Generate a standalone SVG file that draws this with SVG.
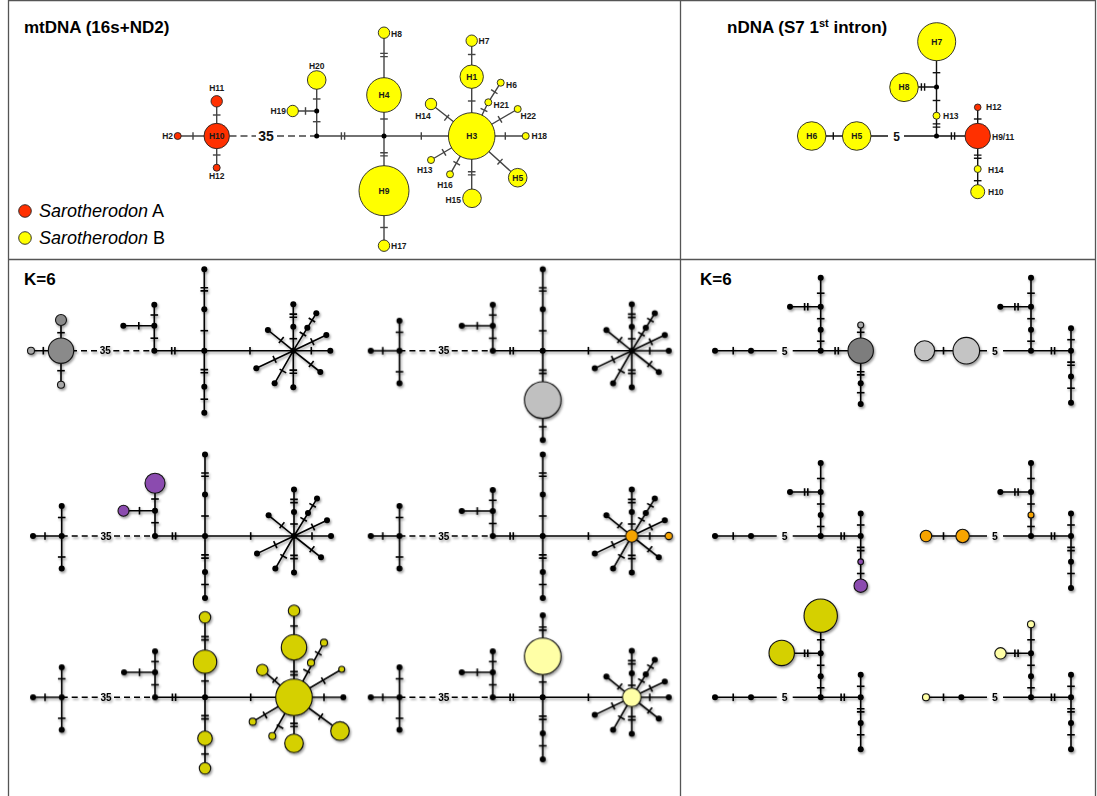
<svg xmlns="http://www.w3.org/2000/svg" width="1097" height="796" viewBox="0 0 1097 796">
<defs>
<style>
.frame{stroke:#555;stroke-width:1.3;fill:none}
.title{font-family:"Liberation Sans",Arial,sans-serif;font-weight:bold;font-size:17px;fill:#000}
.leg{font-family:"Liberation Sans",Arial,sans-serif;font-size:18px;fill:#000}
.hl,.hs,.he{font-family:"Liberation Sans",Arial,sans-serif;font-weight:bold;font-size:8.5px;fill:#1a1a1a;stroke:none}
.hl{text-anchor:middle}.hs{text-anchor:start}.he{text-anchor:end}
.big{font-family:"Liberation Sans",Arial,sans-serif;font-weight:bold;fill:#111;stroke:none;text-anchor:middle}
.mtl{stroke:#444;stroke-width:1.4;fill:none}
.ndl{stroke:#111;stroke-width:1.4;fill:none}
.k{stroke:#000;stroke-width:1.6;fill:none}
.cr{fill:#ff3000;stroke:#222;stroke-width:0.9}
.cy{fill:#ffff00;stroke:#222;stroke-width:0.9}
.c{stroke:#111;stroke-width:1.1}
.t35{font-family:"Liberation Sans",Arial,sans-serif;font-weight:bold;font-size:10px;fill:#000;stroke:none;text-anchor:middle}
</style>
<filter id="sh" x="-10%" y="-10%" width="125%" height="125%">
<feDropShadow dx="1.2" dy="1.8" stdDeviation="1.2" flood-color="#000" flood-opacity="0.4"/>
</filter>
<path id="tv" d="M0,-3.8V3.8"/>
<path id="tv2" d="M-1.6,-3.8V3.8M1.6,-3.8V3.8"/>
<path id="th" d="M-3.8,0H3.8"/>
<path id="th2" d="M-3.8,-1.6H3.8M-3.8,1.6H3.8"/>
<circle id="d" r="3" fill="#000" stroke="none"/>
<circle id="dm" r="2.5" fill="#000" stroke="none"/>
<g id="mtStar">
 <path d="M0,-46.4V36.6 M0,0H37 M0,0L23,-37.4 M0,0L33,-15.7 M0,0L27,21.3 M0,0L-37,17.6 M0,0L-18.7,32.6 M0,0L-25.4,-20.7"/>
 <use href="#th" y="-12"/><use href="#th2" y="-35"/><use href="#th2" y="21"/><use href="#tv" x="18"/>
 <use href="#tv" transform="translate(9.6,-16.7) rotate(-58.4)"/>
 <use href="#tv" transform="translate(18.6,-30.7) rotate(-58.4)"/>
 <use href="#tv" transform="translate(19,-9) rotate(-25.4)"/>
 <use href="#tv" transform="translate(18,13.3) rotate(38.3)"/>
 <use href="#tv" transform="translate(-18.7,8.6) rotate(154.6)"/>
 <use href="#tv" transform="translate(-10.4,20.3) rotate(119.8)"/>
 <use href="#tv" transform="translate(-12,-10.7) rotate(-140.8)"/>
 <use href="#d"/><use href="#d" y="-24"/><use href="#d" y="-46.4"/><use href="#d" y="36.6"/><use href="#d" x="37"/>
 <use href="#d" x="14" y="-23"/><use href="#d" x="23" y="-37.4"/><use href="#d" x="33" y="-15.7"/><use href="#d" x="27" y="21.3"/>
 <use href="#d" x="-37" y="17.6"/><use href="#d" x="-18.7" y="32.6"/><use href="#d" x="-25.4" y="-20.7"/>
</g>
<g id="mtLeft">
 <path d="M-28.7,0H0 M0,-30V32.6"/>
 <use href="#tv" x="-16.7"/><use href="#th" y="-18.5"/><use href="#th" y="21"/>
 <use href="#d" x="-28.7"/><use href="#d"/><use href="#d" y="-30"/><use href="#d" y="32.6"/>
</g>
<g id="mtA">
 <path d="M0,0V-46 M-31,-25H0"/>
 <use href="#th" y="-12.5"/><use href="#th" y="-35.7"/><use href="#tv" x="-15.5" y="-25"/>
 <use href="#d"/><use href="#d" y="-25"/><use href="#d" y="-46"/><use href="#d" x="-31" y="-25"/>
</g>
<g id="mtSpine">
 <path stroke-dasharray="6 4" d="M-143.3,0H-107 M-91,0H-50"/>
 <text x="-99" y="3.6" class="t35">35</text>
 <path d="M-50,0H89"/>
 <use href="#tv2" x="-31"/><use href="#tv" x="45.7"/>
 <use href="#d"/>
</g>
<g id="mtUp"><path d="M0,0V-81.4"/><use href="#th" y="-20"/><use href="#th2" y="-61.4"/><use href="#d" y="-41.4"/><use href="#d" y="-81.4"/></g>
<g id="mtDown"><path d="M0,0V62"/><use href="#th2" y="20.5"/><use href="#th" y="48.5"/><use href="#d" y="36"/><use href="#d" y="62"/></g>
<g id="ndBase">
 <path d="M-105.7,0H-44 M-28,0H40 M0,0V-73 M-30.7,-44H0"/>
 <text x="-36" y="3.8" class="t35" style="font-size:10.5px">5</text>
 <use href="#tv" x="-87.5"/>
 <use href="#th" y="-9.5"/><use href="#th" y="-32"/><use href="#th" y="-57.5"/>
 <use href="#tv2" x="-14.5" y="-44"/>
 <use href="#d" x="-105.7"/><use href="#d" x="-69.7"/><use href="#d"/><use href="#d" y="-21"/><use href="#d" y="-44"/><use href="#d" y="-73"/><use href="#d" x="-30.7" y="-44"/>
</g>
<g id="ndRight">
 <path d="M0,-22.5V52"/>
 <use href="#tv2" x="-18"/>
 <use href="#th" y="-11"/><use href="#th2" y="13"/><use href="#th" y="37.5"/>
 <use href="#d"/><use href="#d" y="-22.5"/><use href="#d" y="25.7"/><use href="#d" y="52"/>
</g>
</defs>

<rect width="1097" height="796" fill="#fff"/>
<g id="frame" class="frame">
 <path d="M8.5,0.7H1095.5 M8.5,0V796 M1095.5,0V796 M8.5,259.5H1095.5 M680.5,0V796"/>
</g>

<text class="title" x="24" y="33">mtDNA (16s+ND2)</text>
<text class="title" x="727" y="33">nDNA (S7 1<tspan font-size="11" dy="-6">st</tspan><tspan dy="6"> intron)</tspan></text>
<text class="title" x="24" y="285">K=6</text>
<text class="title" x="700" y="285">K=6</text>

<g id="legend">
 <circle class="cr" cx="25" cy="211" r="6.3"/>
 <text class="leg" x="39" y="217"><tspan font-style="italic">Sarotherodon</tspan> A</text>
 <circle class="cy" cx="25" cy="238" r="6.3"/>
 <text class="leg" x="39" y="244"><tspan font-style="italic">Sarotherodon</tspan> B</text>
</g>

<!-- main mtDNA network -->
<g id="mt-connectors" class="mtl">
 <path d="M177.7,136H216.7 M216.7,101.3V167.7"/>
 <path stroke-dasharray="7 4" d="M229.5,136H256 M277,136H316.7"/>
 <path d="M316.7,136V80 M292.7,111H316.7 M316.7,136H471.7 M384,32.7V245.7 M471.7,40.7V198.3 M471.7,136H525.7 M471.7,136L431,104 M471.7,136L488.3,102.3L500.7,82.7 M471.7,136L517.7,109 M471.7,136L517.7,177.7 M471.7,136L450,174.3 M471.7,136L431,160"/>
 <use href="#tv" x="193" y="136"/>
 <use href="#th" x="216.7" y="115"/><use href="#th" x="216.7" y="155"/>
 <use href="#th" x="316.7" y="121.7"/><use href="#th" x="316.7" y="99"/>
 <use href="#tv" x="305.5" y="111"/>
 <use href="#tv2" x="343" y="136"/>
 <use href="#th" x="384" y="119"/><use href="#th2" x="384" y="55"/><use href="#th2" x="384" y="154.3"/><use href="#th" x="384" y="227.5"/>
 <use href="#tv" x="421.3" y="136"/>
 <use href="#th" x="471.7" y="101"/><use href="#th" x="471.7" y="54.5"/>
 <use href="#tv" transform="translate(446.7,117.7) rotate(-141.8)"/>
 <use href="#tv" transform="translate(484,110) rotate(-63.8)"/>
 <use href="#tv" transform="translate(494.3,91.7) rotate(-57.7)"/>
 <use href="#tv" transform="translate(500,119.3) rotate(-30.4)"/>
 <use href="#tv" x="505.3" y="136"/>
 <use href="#tv" transform="translate(500,161.7) rotate(42.2)"/>
 <use href="#th2" x="471.7" y="173.3"/>
 <use href="#tv" transform="translate(456.7,163.3) rotate(119.5)"/>
 <use href="#tv" transform="translate(444,152.3) rotate(149.5)"/>
 <text class="big" x="266" y="141" style="font-size:14px">35</text>
</g>
<g id="mt-mv1"><use href="#dm" x="316.7" y="136"/></g>
<g id="mt-mv2"><use href="#dm" x="316.7" y="111"/></g>
<g id="mt-mv3"><use href="#dm" x="384" y="136"/></g>
<g id="mt-H10"><circle class="cr" cx="216.7" cy="136" r="12.7"/><text class="hl" x="216.7" y="139">H10</text></g>
<g id="mt-H11"><circle class="cr" cx="216.7" cy="101.3" r="5.7"/><text class="hl" x="216.7" y="91">H11</text></g>
<g id="mt-H12"><circle class="cr" cx="216.7" cy="167.7" r="3.5"/><text class="hl" x="216.7" y="179">H12</text></g>
<g id="mt-H2"><circle class="cr" cx="177.7" cy="136" r="3.5"/><text class="he" x="173" y="139">H2</text></g>
<g id="mt-H20"><circle class="cy" cx="316.7" cy="80" r="9.3"/><text class="hl" x="316.7" y="69">H20</text></g>
<g id="mt-H19"><circle class="cy" cx="292.7" cy="111" r="5.7"/><text class="he" x="286" y="114">H19</text></g>
<g id="mt-H4"><circle class="cy" cx="384" cy="95" r="17.3"/><text class="hl" x="384" y="98">H4</text></g>
<g id="mt-H8"><circle class="cy" cx="384" cy="32.7" r="5.7"/><text class="hs" x="391" y="37">H8</text></g>
<g id="mt-H9"><circle class="cy" cx="384" cy="190.7" r="25"/><text class="hl" x="384" y="194">H9</text></g>
<g id="mt-H17"><circle class="cy" cx="384" cy="245.7" r="5.7"/><text class="hs" x="391" y="249">H17</text></g>
<g id="mt-H3"><circle class="cy" cx="471.7" cy="136" r="23.3"/><text class="hl" x="471.7" y="139">H3</text></g>
<g id="mt-H1"><circle class="cy" cx="471.7" cy="76.7" r="11.7"/><text class="hl" x="471.7" y="80">H1</text></g>
<g id="mt-H7"><circle class="cy" cx="471.7" cy="40.7" r="5.7"/><text class="hs" x="478.5" y="44">H7</text></g>
<g id="mt-H14"><circle class="cy" cx="431" cy="104" r="5.7"/><text class="hl" x="423" y="119">H14</text></g>
<g id="mt-H21"><circle class="cy" cx="488.3" cy="102.3" r="3.5"/><text class="hs" x="493.5" y="108">H21</text></g>
<g id="mt-H6"><circle class="cy" cx="500.7" cy="82.7" r="3.5"/><text class="hs" x="506" y="88">H6</text></g>
<g id="mt-H22"><circle class="cy" cx="517.7" cy="109" r="3.5"/><text class="hs" x="520.5" y="119">H22</text></g>
<g id="mt-H18"><circle class="cy" cx="525.7" cy="136" r="3.5"/><text class="hs" x="531.5" y="139">H18</text></g>
<g id="mt-H5"><circle class="cy" cx="517.7" cy="177.7" r="9.3"/><text class="hl" x="517.7" y="181">H5</text></g>
<g id="mt-H15"><circle class="cy" cx="472" cy="198.3" r="9.3"/><text class="he" x="461" y="203">H15</text></g>
<g id="mt-H16"><circle class="cy" cx="450" cy="174.3" r="3.5"/><text class="hl" x="445" y="188">H16</text></g>
<g id="mt-H13"><circle class="cy" cx="431" cy="160" r="3.5"/><text class="hl" x="424.7" y="173">H13</text></g>

<!-- main nDNA network -->
<g id="nd-connectors" class="ndl">
 <path d="M811.7,136H888 M904,136H977.7 M936.5,136V41.7 M904,87H936.5 M977.7,107.3V191.7"/>
 <use href="#tv" x="833.3" y="136"/>
 <use href="#tv2" x="953" y="136"/>
 <use href="#th" x="977.7" y="119"/><use href="#th2" x="977.7" y="156.7"/><use href="#th" x="977.7" y="180.7"/>
 <use href="#th2" x="936.5" y="125.5"/><use href="#th" x="936.5" y="100.5"/><use href="#th" x="936.5" y="72.7"/>
 <use href="#tv2" x="923" y="87"/>
 <text class="big" x="896.5" y="140.5" style="font-size:12px">5</text>
</g>
<g id="nd-mv1"><use href="#dm" x="936.5" y="136"/></g>
<g id="nd-mv2"><use href="#dm" x="936.5" y="87"/></g>
<g id="nd-H7"><circle class="cy" cx="936.7" cy="41.7" r="19"/><text class="hl" x="936.7" y="44.7">H7</text></g>
<g id="nd-H8"><circle class="cy" cx="904" cy="87.3" r="14.3"/><text class="hl" x="904" y="90.3">H8</text></g>
<g id="nd-H13"><circle class="cy" cx="936.5" cy="115.7" r="3.5"/><text class="hs" x="943" y="119">H13</text></g>
<g id="nd-H6"><circle class="cy" cx="811.7" cy="136" r="14.3"/><text class="hl" x="811.7" y="139">H6</text></g>
<g id="nd-H5"><circle class="cy" cx="856.7" cy="136" r="14.3"/><text class="hl" x="856.7" y="139">H5</text></g>
<g id="nd-H9-11"><circle class="cr" cx="977.7" cy="136" r="12.7"/><text class="hs" x="992" y="140">H9/11</text></g>
<g id="nd-H12"><circle class="cr" cx="977.7" cy="107.3" r="3.3"/><text class="hs" x="986" y="110">H12</text></g>
<g id="nd-H14"><circle class="cy" cx="977.7" cy="169" r="3.5"/><text class="hs" x="988" y="173">H14</text></g>
<g id="nd-H10"><circle class="cy" cx="977.7" cy="191.7" r="7"/><text class="hs" x="988" y="195">H10</text></g>

<!-- K=6 mtDNA panels -->
<g id="k6-mt-1" class="k" filter="url(#sh)" transform="translate(204.3,350.7)">
 <use href="#mtSpine"/>
 <path d="M-173.3,0H-143.3 M-143.3,-30.7V34"/>
 <use href="#tv" x="-161"/><use href="#th" x="-143.3" y="-18"/><use href="#th" x="-143.3" y="20"/>
 <circle class="c" cx="-143.3" cy="0" r="12.7" fill="#8a8a8a"/>
 <circle class="c" cx="-143.3" cy="-30.7" r="5.5" fill="#8a8a8a"/>
 <circle class="c" cx="-143.3" cy="34" r="3.5" fill="#a8a8a8"/>
 <circle class="c" cx="-173.3" cy="0" r="3.5" fill="#a8a8a8"/>
 <use href="#mtA" x="-50"/>
 <use href="#mtUp"/><use href="#mtDown"/><use href="#mtStar" x="89"/>
</g>
<g id="k6-mt-2" class="k" filter="url(#sh)" transform="translate(542.7,350.7)">
 <use href="#mtSpine"/><use href="#mtLeft" x="-143.3"/><use href="#mtA" x="-50"/><use href="#mtUp"/>
 <path d="M0,0V89.3"/><use href="#th2" y="21"/><use href="#th" y="76"/><use href="#d" y="89.3"/>
 <circle class="c" cx="0" cy="49.3" r="18.3" fill="#c0c0c0"/>
 <use href="#mtStar" x="89"/>
</g>
<g id="k6-mt-3" class="k" filter="url(#sh)" transform="translate(205,536)">
 <use href="#mtSpine"/><use href="#mtLeft" x="-143.3"/>
 <path d="M-50,0V-52.7 M-81,-25.3H-50"/>
 <use href="#th" x="-50" y="-13.3"/><use href="#th" x="-50" y="-37"/><use href="#tv" x="-65.5" y="-25.3"/>
 <use href="#d" x="-50"/><use href="#d" x="-50" y="-25.3"/>
 <circle class="c" cx="-50" cy="-52.7" r="10" fill="#8b4caf"/>
 <circle class="c" cx="-81.5" cy="-25.3" r="5.5" fill="#8b4caf"/>
 <use href="#mtUp"/><use href="#mtDown"/><use href="#mtStar" x="89"/>
</g>
<g id="k6-mt-4" class="k" filter="url(#sh)" transform="translate(542.7,536)">
 <use href="#mtSpine"/><use href="#mtLeft" x="-143.3"/><use href="#mtA" x="-50"/><use href="#mtUp"/><use href="#mtDown"/><use href="#mtStar" x="89"/>
 <circle class="c" cx="89" cy="0" r="6.2" fill="#f7a400"/>
 <circle class="c" cx="126" cy="0" r="3.6" fill="#f7a400"/>
</g>
<g id="k6-mt-5" class="k" filter="url(#sh)" transform="translate(205,697.3)">
 <use href="#mtSpine"/><use href="#mtLeft" x="-143.3"/><use href="#mtA" x="-50"/>
 <path d="M0,0V-80 M0,0V71"/>
 <use href="#th" y="-16.3"/><use href="#th2" y="-59"/><use href="#th2" y="20"/><use href="#th" y="56.7"/>
 <circle class="c" cx="0" cy="-35.6" r="11.7" fill="#d5d000"/>
 <circle class="c" cx="0" cy="-80" r="5.7" fill="#d5d000"/>
 <circle class="c" cx="0" cy="41" r="7.3" fill="#d5d000"/>
 <circle class="c" cx="0" cy="71" r="5.7" fill="#d5d000"/>
 <g transform="translate(89,0)">
  <path d="M0,0V-86.6 M0,0V46 M0,0H49.3 M0,0L30,-54.6 M0,0L47.7,-28 M0,0L46,33.7 M0,0L-21.7,38.7 M0,0L-41.3,24.4 M0,0L-31.7,-27.3"/>
  <use href="#th2" y="-24"/><use href="#th" y="-71.3"/><use href="#th2" y="27.7"/><use href="#tv" x="30"/>
  <use href="#tv" transform="translate(12.7,-26.3) rotate(-63)"/>
  <use href="#tv" transform="translate(24.3,-44) rotate(-61)"/>
  <use href="#tv" transform="translate(29.3,-16.6) rotate(-30.4)"/>
  <use href="#tv" transform="translate(26.7,19.4) rotate(36.2)"/>
  <use href="#tv" transform="translate(-14,29.4) rotate(119.3)"/>
  <use href="#tv" transform="translate(-29,17.7) rotate(149.4)"/>
  <use href="#tv" transform="translate(-19,-17.3) rotate(-139.3)"/>
  <use href="#d" x="49.3"/>
  <circle class="c" r="18.3" fill="#d5d000"/>
  <circle class="c" cy="-50" r="12.7" fill="#d5d000"/>
  <circle class="c" cy="-86.6" r="5.7" fill="#d5d000"/>
  <circle class="c" cx="17" cy="-34.6" r="3.5" fill="#d5d000"/>
  <circle class="c" cx="30" cy="-54.6" r="3.5" fill="#d5d000"/>
  <circle class="c" cx="47.7" cy="-28" r="3" fill="#d5d000"/>
  <circle class="c" cx="46" cy="33.7" r="9.3" fill="#d5d000"/>
  <circle class="c" cx="0" cy="46" r="9.3" fill="#d5d000"/>
  <circle class="c" cx="-21.7" cy="38.7" r="3.5" fill="#d5d000"/>
  <circle class="c" cx="-41.3" cy="24.4" r="3.5" fill="#d5d000"/>
  <circle class="c" cx="-31.7" cy="-27.3" r="5.7" fill="#d5d000"/>
 </g>
</g>
<g id="k6-mt-6" class="k" filter="url(#sh)" transform="translate(542.7,697.3)">
 <use href="#mtSpine"/><use href="#mtLeft" x="-143.3"/><use href="#mtA" x="-50"/>
 <path d="M0,0V-82"/><use href="#th" y="-15.3"/><use href="#th2" y="-68.7"/><use href="#d" y="-82"/>
 <circle class="c" cx="0" cy="-41" r="18.3" fill="#ffffa6"/>
 <use href="#mtDown"/><use href="#mtStar" x="89"/>
 <circle class="c" cx="89" cy="0" r="9.3" fill="#ffffa6"/>
</g>

<!-- K=6 nDNA panels -->
<g id="k6-nd-1" class="k" filter="url(#sh)" transform="translate(820.7,350.7)">
 <use href="#ndBase"/>
 <g transform="translate(40,0)">
  <path d="M0,-25.7V53.3"/>
  <use href="#tv2" x="-24"/><use href="#th" y="-18.4"/><use href="#th2" y="22.6"/><use href="#th" y="42"/>
  <use href="#d" y="32.6"/><use href="#d" y="53.3"/>
  <circle class="c" r="12.7" fill="#7d7d7d"/>
  <circle class="c" cy="-25.7" r="3" fill="#aaa"/>
 </g>
</g>
<g id="k6-nd-2" class="k" filter="url(#sh)" transform="translate(1031,350.7)">
 <use href="#ndBase"/><use href="#ndRight" x="40"/>
 <circle class="c" cx="-106.4" cy="0" r="10" fill="#c4c4c4"/>
 <circle class="c" cx="-64.7" cy="0" r="13.3" fill="#c4c4c4"/>
</g>
<g id="k6-nd-3" class="k" filter="url(#sh)" transform="translate(820.7,536)">
 <use href="#ndBase"/><use href="#ndRight" x="40"/>
 <circle class="c" cx="40" cy="25.7" r="2.8" fill="#8b4caf"/>
 <circle class="c" cx="40" cy="49.7" r="6.7" fill="#8b4caf"/>
</g>
<g id="k6-nd-4" class="k" filter="url(#sh)" transform="translate(1031,536)">
 <use href="#ndBase"/><use href="#ndRight" x="40"/>
 <circle class="c" cx="-105" cy="0" r="5.7" fill="#f7a400"/>
 <circle class="c" cx="-68.4" cy="0" r="6.7" fill="#f7a400"/>
 <circle class="c" cx="0" cy="-21" r="3" fill="#f7a400"/>
</g>
<g id="k6-nd-5" class="k" filter="url(#sh)" transform="translate(820.7,697.3)">
 <use href="#ndBase"/><use href="#ndRight" x="40"/>
 <circle class="c" cx="-39" cy="-44.4" r="12.7" fill="#d5d000"/>
 <circle class="c" cx="0" cy="-81.6" r="16.7" fill="#d5d000"/>
</g>
<g id="k6-nd-6" class="k" filter="url(#sh)" transform="translate(1031,697.3)">
 <use href="#ndBase"/><use href="#ndRight" x="40"/>
 <circle class="c" cx="-105" cy="0" r="3.5" fill="#ffffa6"/>
 <circle class="c" cx="-30.5" cy="-44" r="5.7" fill="#ffffa6"/>
 <circle class="c" cx="0" cy="-73" r="3.5" fill="#ffffa6"/>
</g>
</svg>
